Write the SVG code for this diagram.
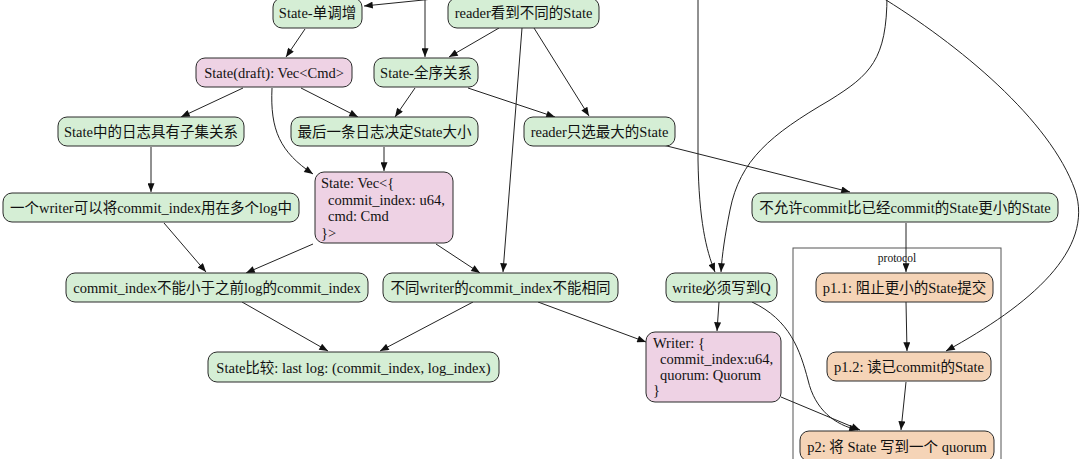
<svg xmlns="http://www.w3.org/2000/svg" width="1080" height="459" viewBox="0 0 1080 459">
<style>
  .n rect { stroke: #2a2a2a; stroke-width: 1; }
  .g rect { fill: #d5eed5; }
  .p rect { fill: #eed2e4; }
  .o rect { fill: #f5d4b7; }
  text { font-family: "Liberation Serif", "Noto Sans CJK SC", serif; font-size: 14.5px; fill: #111; }
  .c { text-anchor: middle; }
  .e path { fill: none; stroke: #222; stroke-width: 1; marker-end: url(#ah); }
  .cl { fill: none; stroke: #555; stroke-width: 1; }
  .cll { font-size: 11.5px; text-anchor: middle; }
</style>
<defs>
  <marker id="ah" viewBox="0 0 10 8" refX="10" refY="4" markerWidth="10" markerHeight="7" markerUnits="userSpaceOnUse" orient="auto">
    <path d="M0,0 L10,4 L0,8 Z" fill="#111"/>
  </marker>
</defs>
<rect width="1080" height="459" fill="#fff"/>
<g id="cluster_protocol">
  <rect class="cl" x="793" y="248" width="208" height="240"/>
  <text class="cll" x="897" y="262">protocol</text>
</g>
<g id="edges" class="e">
  <path d="M473,-5 L364,6"/>
  <path d="M425,-5 L425,57"/>
  <path d="M698,-5 L698,160 C699,220 706,250 715,272"/>
  <path d="M887,-5 C887,60 870,75 830,100 C770,135 740,160 730,210 C725,235 722,255 721,272"/>
  <path d="M878,-5 C960,45 1050,120 1075,190 C1095,250 1030,305 946,351"/>
  <path d="M305,29 L286,57"/>
  <path d="M499,28 L449,57"/>
  <path d="M534,28 L589,116"/>
  <path d="M522,28 L503,272"/>
  <path d="M243,88 L181,117"/>
  <path d="M301,88 L358,117"/>
  <path d="M272,88 C270,130 280,152 313,174"/>
  <path d="M415,88 L395,117"/>
  <path d="M468,88 L555,117"/>
  <path d="M384,147 L384,171"/>
  <path d="M151,147 L151,192"/>
  <path d="M164,223 L206,272"/>
  <path d="M313,244 L246,273"/>
  <path d="M436,244 L480,273"/>
  <path d="M242,302 L328,351"/>
  <path d="M473,302 L380,351"/>
  <path d="M538,302 L646,342"/>
  <path d="M655,143 L850,192"/>
  <path d="M906,223 L906,272"/>
  <path d="M719,302 L717,331"/>
  <path d="M752,302 C790,320 800,350 808,380 C815,410 835,425 858,430"/>
  <path d="M781,397 L860,430"/>
  <path d="M906,302 L907,351"/>
  <path d="M906,382 L901,430"/>
</g>
<g id="n_mono" class="n g"><rect x="273" y="-2" width="89" height="30" rx="9"/><text class="c" x="317.5" y="18">State-单调增</text></g>
<g id="n_reader_diff" class="n g"><rect x="448" y="-2" width="151" height="30" rx="9"/><text class="c" x="523.5" y="18">reader看到不同的State</text></g>
<g id="n_draft" class="n p"><rect x="196" y="58" width="156" height="29" rx="9"/><text class="c" x="274" y="77.5">State(draft): Vec&lt;Cmd&gt;</text></g>
<g id="n_total" class="n g"><rect x="374" y="58" width="104" height="29" rx="9"/><text class="c" x="426" y="77.5">State-全序关系</text></g>
<g id="n_subset" class="n g"><rect x="58" y="117" width="186" height="29" rx="9"/><text class="c" x="151" y="136.5">State中的日志具有子集关系</text></g>
<g id="n_last" class="n g"><rect x="291" y="117" width="187" height="29" rx="9"/><text class="c" x="384.5" y="136.5">最后一条日志决定State大小</text></g>
<g id="n_reader_max" class="n g"><rect x="524" y="117" width="151" height="29" rx="9"/><text class="c" x="599.5" y="136.5">reader只选最大的State</text></g>
<g id="n_writer_multi" class="n g"><rect x="3" y="193" width="296" height="29" rx="9"/><text class="c" x="151" y="212.5">一个writer可以将commit_index用在多个log中</text></g>
<g id="n_state_vec" class="n p"><rect x="315" y="172" width="138" height="71" rx="9"/>
  <text x="321" y="188">State: Vec&lt;{</text>
  <text x="328" y="204.5">commit_index: u64,</text>
  <text x="328" y="221">cmd: Cmd</text>
  <text x="321" y="237.5">}&gt;</text>
</g>
<g id="n_no_smaller" class="n g"><rect x="752" y="193" width="306" height="29" rx="9"/><text class="c" x="905" y="212.5">不允许commit比已经commit的State更小的State</text></g>
<g id="n_ci_less" class="n g"><rect x="66" y="273" width="302" height="29" rx="9"/><text class="c" x="217" y="292.5">commit_index不能小于之前log的commit_index</text></g>
<g id="n_diff_writer" class="n g"><rect x="383" y="273" width="235" height="29" rx="9"/><text class="c" x="500.5" y="292.5">不同writer的commit_index不能相同</text></g>
<g id="n_write_q" class="n g"><rect x="666" y="273" width="111" height="29" rx="9"/><text class="c" x="721.5" y="292.5">write必须写到Q</text></g>
<g id="n_p11" class="n o"><rect x="816" y="273" width="177" height="29" rx="9"/><text class="c" x="904.5" y="292.5">p1.1: 阻止更小的State提交</text></g>
<g id="n_writer" class="n p"><rect x="646" y="332" width="135" height="70" rx="9"/>
  <text x="653" y="348">Writer: {</text>
  <text x="660" y="364">commit_index:u64,</text>
  <text x="660" y="379.5">quorum: Quorum</text>
  <text x="653" y="395">}</text>
</g>
<g id="n_compare" class="n g"><rect x="208" y="352" width="291" height="30" rx="9"/><text class="c" x="353.5" y="372.5">State比较: last log: (commit_index, log_index)</text></g>
<g id="n_p12" class="n o"><rect x="827" y="352" width="164" height="29" rx="9"/><text class="c" x="909" y="371.5">p1.2: 读已commit的State</text></g>
<g id="n_p2" class="n o"><rect x="800" y="431" width="194" height="30" rx="9"/><text class="c" x="897" y="451.5">p2: 将 State 写到一个 quorum</text></g>
</svg>
